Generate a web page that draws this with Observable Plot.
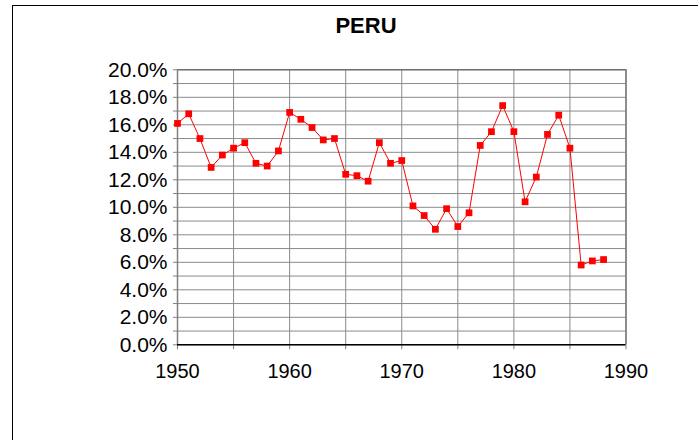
<!DOCTYPE html>
<html>
<head>
<meta charset="utf-8">
<script src="https://cdn.jsdelivr.net/npm/d3@7"></script>
<script src="https://cdn.jsdelivr.net/npm/@observablehq/plot@0.6"></script>
<style>
  html, body { margin: 0; padding: 0; background: #fff; }
  #wrap { position: relative; width: 698px; height: 440px; overflow: hidden; font-family: "Liberation Sans", Arial, sans-serif; }
  #frame { position: absolute; left: 12px; top: 5px; right: -2px; bottom: -2px; border-left: 1px solid #000; border-top: 1px solid #000; }
  #title { position: relative; height: 50px; width: 698px; }
  #title span { position: absolute; left: 366px; top: 13px; transform: translateX(-50%); font-weight: bold; font-size: 22px; color: #000; }
  #chart { position: relative; }
</style>
</head>
<body>
<div id="wrap">
  <div id="frame"></div>
  <div id="title"><span>PERU</span></div>
  <div id="chart"></div>
</div>
<script>
const years = [1950,1951,1952,1953,1954,1955,1956,1957,1958,1959,
               1960,1961,1962,1963,1964,1965,1966,1967,1968,1969,
               1970,1971,1972,1973,1974,1975,1976,1977,1978,1979,
               1980,1981,1982,1983,1984,1985,1986,1987,1988];
const values = [16.1,16.8,15.0,12.9,13.8,14.3,14.7,13.2,13.0,14.1,
                16.9,16.4,15.8,14.9,15.0,12.4,12.3,11.9,14.7,13.2,
                13.4,10.1,9.4,8.4,9.9,8.6,9.6,14.5,15.5,17.4,
                15.5,10.4,12.2,15.3,16.7,14.3,5.8,6.1,6.2];
const yGrid = d3.range(0, 21, 1);
const yLabels = d3.range(0, 21, 2);
const xGrid = d3.range(1950, 1991, 5);
const xLabels = d3.range(1950, 1991, 10);

const data = years.map((y, i) => ({year: y, value: values[i]}));

const chart = Plot.plot({
  width: 698,
  height: 390,
  marginLeft: 177,
  marginRight: 72.5,
  marginTop: 19.3,
  marginBottom: 95.7,
  style: {fontFamily: "'Liberation Sans', Arial, sans-serif", color: "#000", background: "transparent"},
  x: {domain: [1950, 1990], label: null},
  y: {domain: [0, 20], label: null},
  marks: [
    Plot.ruleY(yGrid, {stroke: "#8a8a8a", strokeWidth: 1}),
    Plot.ruleX(xGrid, {stroke: "#8a8a8a", strokeWidth: 1}),
    Plot.ruleY([20], {stroke: "#555", strokeWidth: 1}),
    Plot.ruleX([1990], {stroke: "#555", strokeWidth: 1}),
    Plot.ruleX([1950], {stroke: "#808080", strokeWidth: 1.5}),
    Plot.axisY(yGrid, {tickSize: 4, tickFormat: () => "", stroke: "#808080", label: null}),
    Plot.axisY(yLabels, {tickSize: 0, tickPadding: 10, tickFormat: d => d.toFixed(1) + "%", fontSize: 21, label: null}),
    Plot.axisX(xGrid, {tickSize: 5, tickFormat: () => "", stroke: "#808080", label: null}),
    Plot.axisX(xLabels, {tickSize: 0, tickPadding: 19, tickFormat: d => String(d), fontSize: 20, label: null}),
    Plot.ruleY([0], {stroke: "#000", strokeWidth: 1.5}),
    Plot.line(data, {x: "year", y: "value", stroke: "#ff0000", strokeWidth: 1}),
    Plot.dot(data, {x: "year", y: "value", symbol: "square", r: 3.8, fill: "#ff0000", stroke: "none"})
  ]
});
document.getElementById("chart").appendChild(chart);
</script>
</body>
</html>
